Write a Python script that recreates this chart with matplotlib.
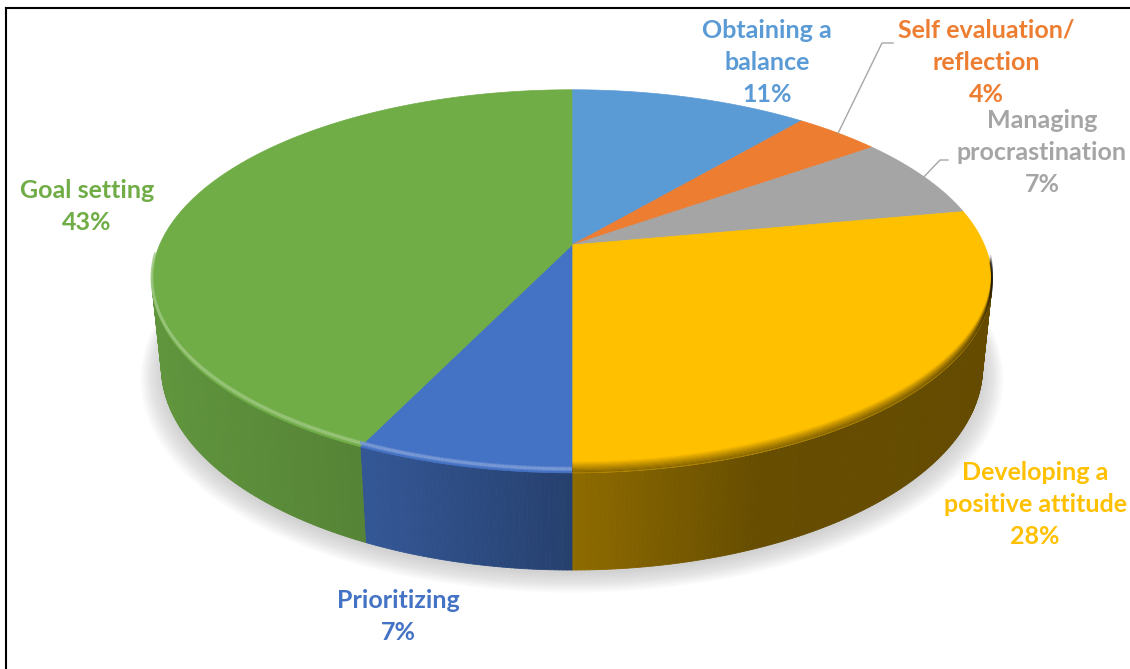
import numpy as np
import matplotlib.pyplot as plt
from matplotlib.collections import PolyCollection, LineCollection
from matplotlib.colors import to_rgb

# Time management strategies mentioned (share of responses, %)
categories = ['Obtaining a\nbalance', 'Self evaluation/\nreflection', 'Managing\nprocrastination',
              'Developing a\npositive attitude', 'Prioritizing', 'Goal setting']
shares = [11, 4, 7, 28, 7, 43]
colors = ['#5B9BD5', '#ED7D31', '#A5A5A5', '#FFC000', '#4472C4', '#70AD47']

# where the first line of each label is centred (pixels)
label_pos = [(767, 30), (986, 30), (1042, 120), (1035, 472), (398, 600), (87, 190)]
# leader lines for the two narrow slices: elbow and end point
leaders = {1: [(882, 43), (893, 43)], 2: [(940, 160), (948, 160)]}

W, H = 1130, 669
CX, CY = 572, 245
FOCAL = 1945.0
ELEV = np.radians(26.6)
DIST = 4.716
THICK = 0.233
S, C = np.sin(ELEV), np.cos(ELEV)


def proj(theta, r=1.0, z=0.0):
    # theta in degrees, clockwise from 12 o'clock; simple perspective camera
    t = np.radians(theta)
    x = r * np.sin(t)
    y = r * np.cos(t)
    depth = y * C - z * S + DIST
    return CX + FOCAL * x / depth, CY - FOCAL * (y * S + z * C) / depth


def side_shade(px):
    return np.interp(px, [150, 380, 572, 760, 1000], [0.86, 0.75, 0.56, 0.40, 0.39])


def rim_lines(ts, dy, cols, lw):
    px, py = proj(ts, 1.0, 0.0)
    py = py - dy
    segs = [[(px[j], py[j]), (px[j + 1], py[j + 1])] for j in range(len(ts) - 1)]
    ax.add_collection(LineCollection(segs, colors=cols, linewidths=lw, zorder=4, capstyle='butt'))


fig = plt.figure(figsize=(W / 100, H / 100), dpi=100)
ax = fig.add_axes([0, 0, 1, 1])
ax.set_xlim(0, W)
ax.set_ylim(H, 0)
ax.axis('off')

# slice angles
bounds = np.concatenate([[0], np.cumsum(shares)]) / np.sum(shares) * 360.0
vis_lim = np.degrees(np.arccos(-1.0 / (DIST * C)))  # side is visible between these
vis_a, vis_b = vis_lim, 360 - vis_lim

# soft shadow under the disc
th = np.linspace(0, 360, 361)
bx, by = proj(th, 1.0, -THICK)
mx, my = bx.mean(), by.mean()
for k in range(18):
    sc = 1 + 0.003 * k
    ax.fill(mx + (bx - mx) * sc, my + (by - my) * sc + 3 + 0.5 * k,
            color='#7f7f7f', alpha=0.02, lw=0, zorder=1)

# front side walls
for i in range(len(shares)):
    a0, a1 = max(bounds[i], vis_a), min(bounds[i + 1], vis_b)
    if a1 <= a0:
        continue
    base = np.array(to_rgb(colors[i]))
    ts = np.linspace(a0, a1, max(int((a1 - a0) / 0.5), 2) + 1)
    tx, ty = proj(ts, 1.0, 0.0)
    lx, ly = proj(ts, 1.0, -THICK)
    polys, fcs = [], []
    for j in range(len(ts) - 1):
        polys.append([(tx[j], ty[j]), (tx[j + 1], ty[j + 1]), (lx[j + 1], ly[j + 1]), (lx[j], ly[j])])
        fcs.append(base * side_shade(0.5 * (tx[j] + tx[j + 1])))
    ax.add_collection(PolyCollection(polys, facecolors=fcs, edgecolors=fcs, linewidths=0.6, zorder=2))

# top faces
cx0, cy0 = proj(0.0, 0.0, 0.0)
for i in range(len(shares)):
    ts = np.linspace(bounds[i], bounds[i + 1], max(int(bounds[i + 1] - bounds[i]), 2) * 2 + 1)
    px, py = proj(ts, 1.0, 0.0)
    ax.fill(np.concatenate([[cx0], px]), np.concatenate([[cy0], py]),
            facecolor=colors[i], edgecolor=colors[i], lw=0.5, zorder=3)

# bevel along the front rim: highlight on the left, shadow on the right
for i in range(len(shares)):
    a0, a1 = max(bounds[i], vis_a - 8), min(bounds[i + 1], vis_b + 10)
    if a1 <= a0:
        continue
    base = np.array(to_rgb(colors[i]))
    light = base + (1 - base) * 0.3
    ts = np.linspace(a0, a1, max(int(a1 - a0), 2) * 2 + 1)
    tm = 0.5 * (ts[:-1] + ts[1:])
    w = np.clip((-np.cos(np.radians(tm)) + 0.25) / 0.45, 0, 1)
    left = tm >= 180
    for dy, lw, strength in [(2.5, 1.2, 0.4), (4.0, 2.0, 0.9), (5.5, 1.2, 0.4)]:
        cols = [(*light, w[j] * strength) if left[j] else (0, 0, 0, 0) for j in range(len(tm))]
        rim_lines(ts, dy, cols, lw)
    n = 10
    for k in range(n):
        cols = [(0, 0, 0, w[j] * 0.3 * (1 - k / n)) if not left[j] else (0, 0, 0, 0)
                for j in range(len(tm))]
        rim_lines(ts, 0.6 + 1.1 * k, cols, 1.4)

# leader lines
for i, pts in leaders.items():
    sx, sy = proj(0.5 * (bounds[i] + bounds[i + 1]), 1.0, 0.0)
    ax.plot([sx] + [p[0] for p in pts], [sy] + [p[1] for p in pts], color='#A6A6A6', lw=1.0, zorder=5)

# data labels
for i, name in enumerate(categories):
    lines = name.split('\n') + [f'{shares[i]}%']
    x0, y0 = label_pos[i]
    for j, line in enumerate(lines):
        ax.text(x0, y0 + 32.5 * j, line, ha='center', va='center', color=colors[i],
                fontsize=18, fontweight='bold', family=['Lato', 'DejaVu Sans'], zorder=6)

# chart frame
ax.plot([6, 6], [H + 5, 8], color='black', lw=1.5, zorder=7)
ax.plot([6, W + 5], [8, 8], color='black', lw=1.5, zorder=7)

fig.savefig('out.png', dpi=100)
